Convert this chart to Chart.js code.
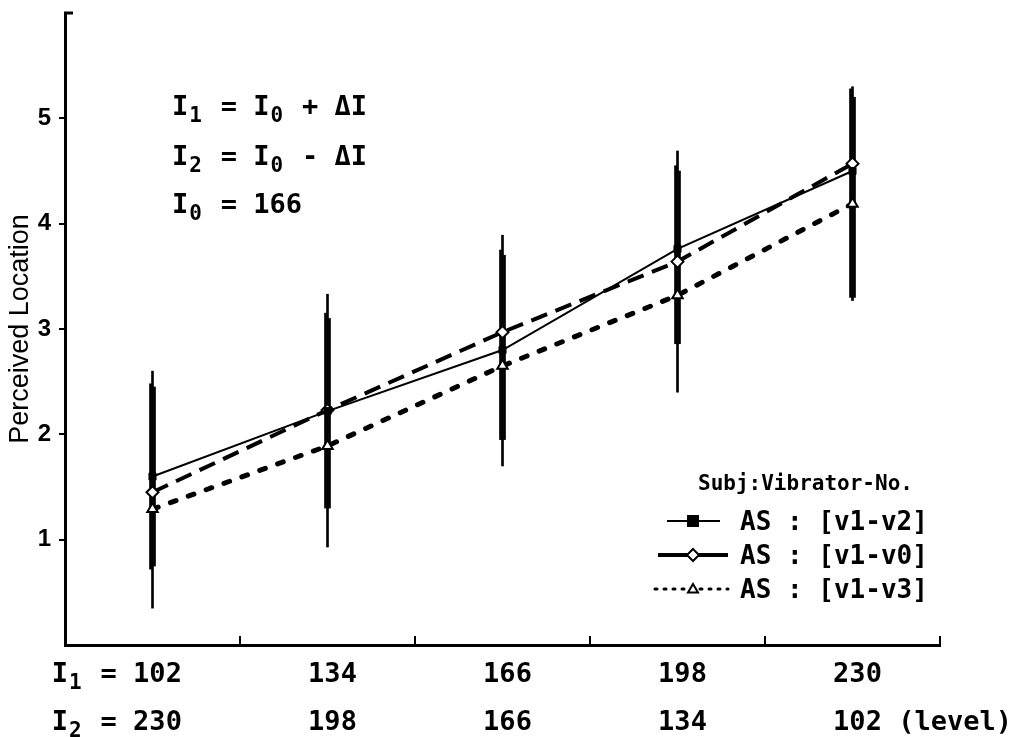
<!DOCTYPE html>
<html>
<head>
<meta charset="utf-8">
<script src="https://cdn.jsdelivr.net/npm/chart.js@4.4.0/dist/chart.umd.min.js"></script>
<style>
  html, body { margin: 0; padding: 0; background: #fff; }
  #wrap { width: 1025px; height: 737px; }
</style>
</head>
<body>
<div id="wrap"><canvas id="myChart"></canvas></div>
<script>
// stimulus levels (I1 rises while I2 falls)
const levelsI1 = ['102', '134', '166', '198', '230'];
const levelsI2 = ['230', '198', '166', '134', '102'];

const seriesNames = ['AS : [v1-v2]', 'AS : [v1-v0]', 'AS : [v1-v3]'];

// mean perceived location per level
const meanV2 = [1.6, 2.22, 2.8, 3.76, 4.5];
const meanV0 = [1.45, 2.23, 2.97, 3.64, 4.57];
const meanV3 = [1.29, 1.89, 2.65, 3.32, 4.19];

// spread of the answers (low / high end)
const lowV2 = [0.72, 1.3, 1.95, 2.86, 3.3];
const highV2 = [2.48, 3.15, 3.75, 4.55, 5.28];
const lowV0 = [0.35, 0.93, 1.7, 2.4, 3.27];
const highV0 = [2.6, 3.33, 3.89, 4.69, 5.3];
const lowV3 = [0.75, 1.3, 1.95, 2.86, 3.3];
const highV3 = [2.45, 3.1, 3.7, 4.5, 5.2];

const yTicks = [1, 2, 3, 4, 5];

const ink = '#000';
const mono = 'DejaVu Sans Mono';

const pair = (lo, hi) => lo.map((v, i) => [v, hi[i]]);

function spreadBars(lo, hi) {
  return {
    type: 'bar',
    data: pair(lo, hi),
    backgroundColor: ink,
    barThickness: 2,
    order: 5
  };
}

const lineStyles = [
  { borderWidth: 2, borderDash: [], pointStyle: 'rect', pointRadius: 5, pointBackgroundColor: ink, pointBorderWidth: 1 },
  { borderWidth: 4, borderDash: [17, 9], pointStyle: 'rectRot', pointRadius: 6, pointBackgroundColor: '#fff', pointBorderWidth: 2 },
  { borderWidth: 5, borderDash: [6, 13], pointStyle: 'triangle', pointRadius: 6, pointBackgroundColor: '#fff', pointBorderWidth: 2 }
];

function meanLine(i, values) {
  return Object.assign({
    type: 'line',
    label: seriesNames[i],
    data: values,
    borderColor: ink,
    pointBorderColor: ink,
    borderCapStyle: i === 2 ? 'round' : 'butt',
    tension: 0,
    fill: false,
    order: 1
  }, lineStyles[i]);
}

function monoFont(size) {
  return 'bold ' + size + 'px "' + mono + '"';
}

// text with subscripts: parts = [[text, isSub], ...]
function richWidth(ctx, parts, size) {
  let w = 0;
  ctx.font = monoFont(size);
  const cell = ctx.measureText('0').width;
  parts.forEach(p => {
    if (p[1]) w += cell;
    else w += ctx.measureText(p[0]).width;
  });
  return w;
}

function drawRich(ctx, x, y, parts, size) {
  ctx.font = monoFont(size);
  const cell = ctx.measureText('0').width;
  ctx.textAlign = 'left';
  ctx.textBaseline = 'alphabetic';
  let cx = x;
  parts.forEach(p => {
    if (p[1]) {
      ctx.font = monoFont(Math.round(size * 0.78));
      ctx.fillText(p[0], cx + 1, y + size * 0.27);
      cx += cell;
    } else {
      ctx.font = monoFont(size);
      ctx.fillText(p[0], cx, y);
      cx += ctx.measureText(p[0]).width;
    }
  });
}

function drawMarker(ctx, style, x, y, r) {
  ctx.save();
  ctx.lineWidth = 2;
  ctx.setLineDash([]);
  ctx.strokeStyle = ink;
  ctx.beginPath();
  if (style === 'rect') {
    ctx.rect(x - r, y - r, 2 * r, 2 * r);
    ctx.fillStyle = ink;
  } else if (style === 'rectRot') {
    ctx.moveTo(x, y - r); ctx.lineTo(x + r, y); ctx.lineTo(x, y + r); ctx.lineTo(x - r, y);
    ctx.closePath();
    ctx.fillStyle = '#fff';
  } else {
    ctx.moveTo(x, y - r); ctx.lineTo(x + r, y + r * 0.7); ctx.lineTo(x - r, y + r * 0.7);
    ctx.closePath();
    ctx.fillStyle = '#fff';
  }
  ctx.fill();
  ctx.stroke();
  ctx.restore();
}

const extras = {
  id: 'extras',
  afterDraw(chart) {
    const ctx = chart.ctx;
    const area = chart.chartArea;
    const xs = chart.scales.x;
    ctx.save();
    ctx.fillStyle = ink;
    ctx.strokeStyle = ink;

    // inward tick marks on the x axis, between levels
    ctx.lineWidth = 2;
    for (let i = 0; i < levelsI1.length; i++) {
      const tx = i < levelsI1.length - 1
        ? (xs.getPixelForValue(i) + xs.getPixelForValue(i + 1)) / 2
        : area.right;
      ctx.beginPath();
      ctx.moveTo(tx, area.bottom);
      ctx.lineTo(tx, area.bottom - 9);
      ctx.stroke();
    }
    // short tick at the top of the y axis
    ctx.lineWidth = 3;
    ctx.beginPath();
    ctx.moveTo(area.left - 1, area.top);
    ctx.lineTo(area.left + 8, area.top);
    ctx.stroke();

    // two rows of level labels
    const labelSize = 27;
    const rows = [
      { vals: levelsI1, y: 682, prefix: [['I', false], ['1', true], [' = ', false]] },
      { vals: levelsI2, y: 730, prefix: [['I', false], ['2', true], [' = ', false]] }
    ];
    rows.forEach((row, r) => {
      row.vals.forEach((v, i) => {
        ctx.font = monoFont(labelSize);
        const w = ctx.measureText(v).width;
        const cx = xs.getPixelForValue(i) + 5;
        const left = cx - w / 2;
        drawRich(ctx, left, row.y, [[v, false]], labelSize);
        if (i === 0) {
          const pw = richWidth(ctx, row.prefix, labelSize);
          drawRich(ctx, left - pw, row.y, row.prefix, labelSize);
        }
        if (r === 1 && i === row.vals.length - 1) {
          drawRich(ctx, left + w, row.y, [[' (level)', false]], labelSize);
        }
      });
    });

    // definitions of the two intensities
    drawRich(ctx, 172, 115, [['I', false], ['1', true], [' = I', false], ['0', true], [' + ΔI', false]], 27);
    drawRich(ctx, 172, 165, [['I', false], ['2', true], [' = I', false], ['0', true], [' - ΔI', false]], 27);
    drawRich(ctx, 172, 213, [['I', false], ['0', true], [' = 166', false]], 27);

    // legend
    ctx.font = monoFont(21);
    ctx.textAlign = 'left';
    ctx.textBaseline = 'alphabetic';
    ctx.fillText('Subj:Vibrator-No.', 698, 490);
    const rowsY = [521, 555, 589];
    const spans = [[667, 720], [658, 728], [655, 728]];
    chart.data.datasets.filter(d => d.type === 'line').forEach((d, k) => {
      const y = rowsY[k];
      ctx.save();
      ctx.lineWidth = k === 2 ? 3 : Math.min(d.borderWidth, 4);
      ctx.lineCap = d.borderCapStyle;
      ctx.setLineDash(k === 2 ? [2, 7] : []);
      ctx.beginPath();
      ctx.moveTo(spans[k][0], y);
      ctx.lineTo(spans[k][1], y);
      ctx.stroke();
      ctx.restore();
      drawMarker(ctx, d.pointStyle, 693, y, k === 1 ? 6 : 5);
      ctx.font = monoFont(26);
      ctx.fillStyle = ink;
      ctx.fillText(d.label, 740, y + 9);
    });
    ctx.restore();
  }
};

const myChart = new Chart('myChart', {
  data: {
    labels: levelsI1,
    datasets: [
      meanLine(0, meanV2),
      meanLine(1, meanV0),
      meanLine(2, meanV3),
      spreadBars(lowV2, highV2),
      spreadBars(lowV0, highV0),
      spreadBars(lowV3, highV3)
    ]
  },
  options: {
    responsive: true,
    maintainAspectRatio: false,
    animation: false,
    layout: { padding: { top: 13, right: 85, left: 0, bottom: 0 } },
    plugins: {
      legend: { display: false },
      tooltip: { enabled: false }
    },
    scales: {
      x: {
        type: 'category',
        offset: true,
        grid: { display: true, drawOnChartArea: false, drawTicks: false },
        border: { display: true, color: ink, width: 3 },
        ticks: { display: false },
        afterFit: s => { s.height = 92; }
      },
      y: {
        min: 0,
        max: 6,
        afterBuildTicks: s => { s.ticks = yTicks.map(v => ({ value: v })); },
        ticks: {
          color: ink,
          padding: 8,
          font: { family: 'Liberation Sans', size: 24, weight: 'bold' }
        },
        grid: { drawOnChartArea: false, tickLength: 6, color: ink, lineWidth: 2 },
        border: { display: true, color: ink, width: 3 },
        title: {
          display: true,
          text: 'Perceived Location',
          color: ink,
          font: { family: 'Liberation Sans', size: 27 },
          padding: { top: 4, bottom: 0 }
        },
        afterFit: s => {
          s.width = 65;
          s.paddingTop = 0;
          s.paddingBottom = 0;
        }
      }
    }
  },
  plugins: [extras]
});
</script>
</body>
</html>
